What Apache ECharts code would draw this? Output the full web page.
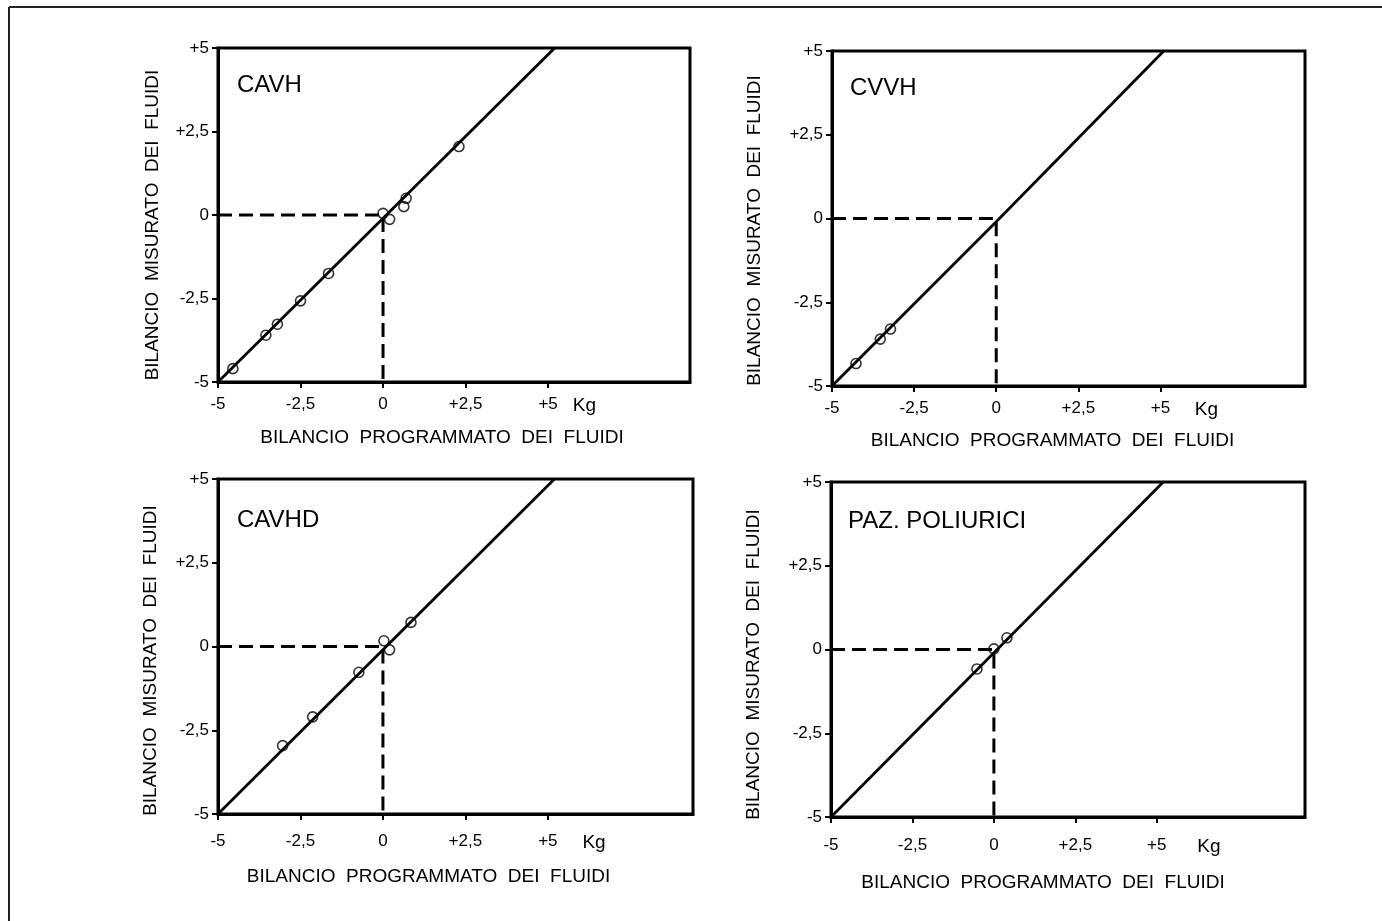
<!DOCTYPE html>
<html>
<head>
<meta charset="utf-8">
<script src="https://cdn.jsdelivr.net/npm/echarts@6/dist/echarts.min.js"></script>
<style>
    html, body { margin: 0; padding: 0; background: #fff; }
    #chart { width: 1382px; height: 921px; }
</style>
</head>
<body>
<div id="chart"></div>
<script>
// tick values shared by all four panels
const tickValues = [-5, -2.5, 0, 2.5, 5];

const cavhPoints = [[2.3, 2.05], [0.7, 0.5], [0.63, 0.25], [0.0, 0.05], [0.2, -0.13],
    [-1.65, -1.75], [-2.5, -2.57], [-3.2, -3.27], [-3.55, -3.6], [-4.55, -4.6]];
const cvvhPoints = [[-4.27, -4.33], [-3.53, -3.6], [-3.22, -3.3]];
const cavhdPoints = [[0.85, 0.72], [0.03, 0.17], [0.2, -0.1], [-0.73, -0.77], [-2.13, -2.1], [-3.04, -2.96]];
const poliuriciPoints = [[0.4, 0.35], [0.0, 0.02], [-0.52, -0.58]];

// regression lines (end points)
const cavhFit = [[-5, -5], [5.2, 5]];
const cvvhFit = [[-5, -5], [0, -0.1], [5.1, 5]];
const cavhdFit = [[-5, -5], [5.2, 5]];
const poliuriciFit = [[-5, -5], [5.2, 5]];

// dashed reference at zero
const zeroGuide = [[-5, 0], [0, 0], [0, -5]];

const titles = ['CAVH', 'CVVH', 'CAVHD', 'PAZ. POLIURICI'];
const xName = 'BILANCIO  PROGRAMMATO  DEI  FLUIDI';
const yName = 'BILANCIO  MISURATO  DEI  FLUIDI';

const panels = [
    { points: cavhPoints, fit: cavhFit, left: 218, top: 48, width: 472, height: 334, xMax: 9.3, kgAt: 6.1,
      titleLeft: 232, titleTop: 68, xGap: 46, yGap: 56, xLabelMargin: 14, xShift: 24, yShift: 20 },
    { points: cvvhPoints, fit: cvvhFit, left: 832, top: 51, width: 473, height: 335, xMax: 9.4, kgAt: 6.4,
      titleLeft: 845, titleTop: 71, xGap: 45, yGap: 68, xLabelMargin: 14, xShift: 32, yShift: 24 },
    { points: cavhdPoints, fit: cavhdFit, left: 218, top: 479, width: 475, height: 335, xMax: 9.4, kgAt: 6.4,
      titleLeft: 232, titleTop: 503, xGap: 53, yGap: 58, xLabelMargin: 19, xShift: 54, yShift: 28 },
    { points: poliuriciPoints, fit: poliuriciFit, left: 831, top: 482, width: 474, height: 335, xMax: 9.55, kgAt: 6.6,
      titleLeft: 843, titleTop: 504, xGap: 56, yGap: 68, xLabelMargin: 20, xShift: 50, yShift: 30 }
];

const FONT = '"Liberation Sans", Arial, Helvetica, sans-serif';

const fmt = v => {
    let s = String(v).replace('.', ',');
    return v > 0 ? '+' + s : s;
};

let grid = [], xAxis = [], yAxis = [], series = [], title = [];

panels.forEach((p, i) => {
    grid.push({
        left: p.left, top: p.top, width: p.width, height: p.height,
        show: true, borderColor: '#000', borderWidth: 3, backgroundColor: 'transparent'
    });
    title.push({
        text: titles[i], left: p.titleLeft, top: p.titleTop,
        textStyle: { fontFamily: FONT, fontSize: 24, fontWeight: 'normal', color: '#000' }
    });
    xAxis.push({
        type: 'value', gridIndex: i, min: -5, max: p.xMax,
        name: xName, nameLocation: 'middle', nameGap: p.xGap,
        nameTextStyle: { fontFamily: FONT, fontSize: 19, color: '#000', padding: [0, p.xShift, 0, 0] },
        splitLine: { show: false },
        axisLine: { show: true, onZero: false, lineStyle: { color: '#000', width: 3 } },
        axisTick: { show: true, length: 6, customValues: tickValues, lineStyle: { color: '#000', width: 2 } },
        axisLabel: {
            customValues: tickValues.concat([p.kgAt]),
            margin: p.xLabelMargin,
            fontFamily: FONT, fontSize: 17, color: '#000',
            formatter: v => (v > 5.5 ? '{kg|Kg}' : fmt(v)),
            rich: { kg: { fontFamily: FONT, fontSize: 19, color: '#000' } }
        }
    });
    yAxis.push({
        type: 'value', gridIndex: i, min: -5, max: 5, interval: 2.5,
        name: yName, nameLocation: 'middle', nameGap: p.yGap,
        nameTextStyle: { fontFamily: FONT, fontSize: 19, color: '#000', padding: [0, p.yShift, 0, 0] },
        splitLine: { show: false },
        axisLine: { show: true, onZero: false, lineStyle: { color: '#000', width: 3 } },
        axisTick: { show: true, length: 6, lineStyle: { color: '#000', width: 2 } },
        axisLabel: { margin: 9, fontFamily: FONT, fontSize: 17, color: '#000', formatter: fmt }
    });
    series.push({
        type: 'line', xAxisIndex: i, yAxisIndex: i, data: zeroGuide,
        symbol: 'none', silent: true, z: 2,
        lineStyle: { color: '#000', width: 3, type: [14, 7] }
    });
    series.push({
        type: 'line', xAxisIndex: i, yAxisIndex: i, data: p.fit,
        symbol: 'none', silent: true, z: 3, clip: true,
        lineStyle: { color: '#000', width: 2.8 }
    });
    series.push({
        type: 'scatter', xAxisIndex: i, yAxisIndex: i, data: p.points,
        symbol: 'circle', symbolSize: 10, z: 4,
        itemStyle: { color: 'rgba(0,0,0,0)', borderColor: '#000', borderWidth: 1.6 }
    });
});

const myChart = echarts.init(document.getElementById('chart'), null, { renderer: 'canvas' });
myChart.setOption({
    backgroundColor: '#fff',
    animation: false,
    title: title,
    grid: grid,
    xAxis: xAxis,
    yAxis: yAxis,
    series: series,
    graphic: [
        { type: 'line', shape: { x1: 9, y1: 7, x2: 1382, y2: 7 }, style: { stroke: '#222', lineWidth: 2 } },
        { type: 'line', shape: { x1: 9, y1: 7, x2: 9, y2: 921 }, style: { stroke: '#222', lineWidth: 2 } }
    ]
});
</script>
</body>
</html>
